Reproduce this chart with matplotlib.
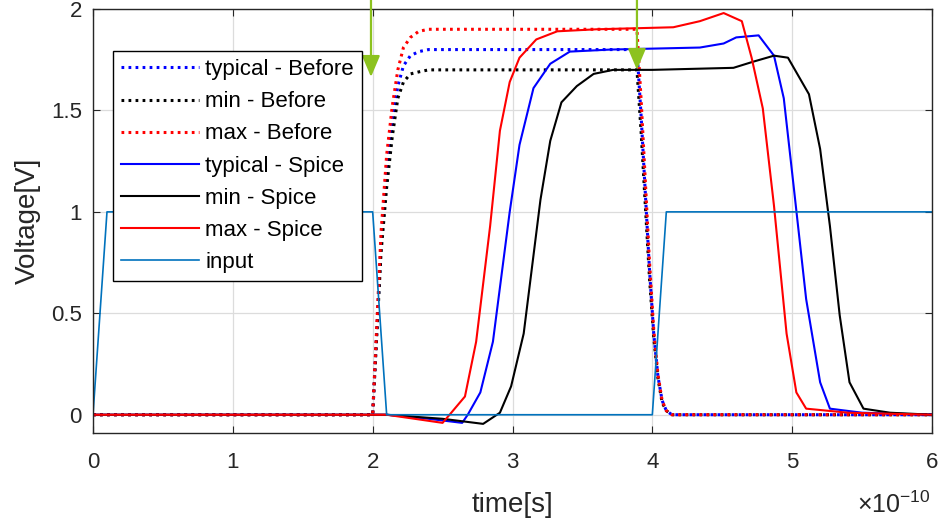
import numpy as np
import matplotlib
matplotlib.use("Agg")
import matplotlib.pyplot as plt

plt.rcParams['font.family'] = ['Liberation Sans', 'DejaVu Sans']
plt.rcParams['mathtext.fontset'] = 'custom'
plt.rcParams['mathtext.rm'] = 'Liberation Sans'
plt.rcParams['mathtext.it'] = 'Liberation Sans'

# time axis in units of 1e-10 s
t_input = [0, 0.1, 2.0, 2.1, 4.0, 4.1, 6.0]
v_input = [0, 1, 1, 0, 0, 1, 1]

t_before = [0, 2.0, 2.03, 2.06, 2.1, 2.14, 2.18, 2.22, 2.27, 2.33, 2.4,
            3.89, 3.92, 3.95, 3.98, 4.01, 4.04, 4.07, 4.1, 4.14, 6.0]
v_typ_before = [0, 0, 0.42, 0.85, 1.2, 1.45, 1.62, 1.72, 1.77, 1.79, 1.8,
                1.8, 1.47, 1.09, 0.71, 0.4, 0.19, 0.07, 0.02, 0, 0]
v_min_before = [0, 0, 0.4, 0.8, 1.12, 1.37, 1.56, 1.64, 1.68, 1.69, 1.7,
                1.7, 1.39, 1.03, 0.67, 0.38, 0.18, 0.06, 0.02, 0, 0]
v_max_before = [0, 0, 0.45, 0.9, 1.28, 1.52, 1.7, 1.81, 1.86, 1.89, 1.9,
                1.9, 1.55, 1.15, 0.75, 0.42, 0.2, 0.07, 0.02, 0, 0]

t_typ_spice = [0, 2.1, 2.4, 2.64, 2.68, 2.77, 2.86, 2.98, 3.05, 3.15, 3.27, 3.41,
               3.7, 4.34, 4.51, 4.60, 4.76, 4.87, 4.94, 5.01, 5.10, 5.20, 5.27, 5.5, 6.0]
v_typ_spice = [0, 0, -0.02, -0.04, 0.0, 0.11, 0.36, 1.0, 1.33, 1.61, 1.73, 1.79,
               1.8, 1.81, 1.83, 1.86, 1.87, 1.77, 1.56, 1.13, 0.57, 0.16, 0.03, 0.01, 0]

t_min_spice = [0, 2.1, 2.5, 2.79, 2.91, 2.99, 3.08, 3.20, 3.27, 3.35, 3.46, 3.58,
               3.72, 4.0, 4.58, 4.72, 4.87, 4.97, 5.12, 5.20, 5.27, 5.34, 5.41, 5.51, 5.7, 6.0]
v_min_spice = [0, 0, -0.02, -0.045, 0.01, 0.14, 0.40, 1.06, 1.35, 1.54, 1.62, 1.68,
               1.70, 1.70, 1.71, 1.74, 1.77, 1.76, 1.58, 1.31, 0.93, 0.49, 0.16, 0.03, 0.01, 0]

t_max_spice = [0, 2.1, 2.3, 2.5, 2.55, 2.66, 2.74, 2.84, 2.91, 2.98, 3.05, 3.17, 3.32,
               3.6, 4.15, 4.34, 4.51, 4.64, 4.71, 4.79, 4.87, 4.96, 5.03, 5.1, 5.4, 6.0]
v_max_spice = [0, 0, -0.02, -0.04, 0.0, 0.09, 0.36, 0.93, 1.40, 1.64, 1.76, 1.85, 1.89,
               1.9, 1.91, 1.94, 1.98, 1.94, 1.76, 1.51, 1.03, 0.40, 0.11, 0.03, 0.01, 0]

# green arrow tips (t, V)
arrow_tips = [(1.988, 1.665), (3.89, 1.70)]

fig = plt.figure(figsize=(9.39, 5.18), dpi=100)
ax = fig.add_axes([93/939, 1-433/518, (932-93)/939, (433-9)/518])

dot = (0, (0.9, 1.4))
ax.plot(t_before, v_typ_before, color='#0000ff', lw=2.2, ls=dot, label='typical - Before')
ax.plot(t_before, v_min_before, color='k', lw=2.2, ls=dot, label='min - Before')
ax.plot(t_before, v_max_before, color='#ff0000', lw=2.2, ls=dot, label='max - Before')
ax.plot(t_typ_spice, v_typ_spice, color='#0000ff', lw=1.5, label='typical - Spice')
ax.plot(t_min_spice, v_min_spice, color='k', lw=1.5, label='min - Spice')
ax.plot(t_max_spice, v_max_spice, color='#ff0000', lw=1.5, label='max - Spice')
ax.plot(t_input, v_input, color='#0072bd', lw=1.2, label='input')

for tx, ty in arrow_tips:
    ax.annotate('', xy=(tx, ty), xycoords='data',
                xytext=(tx, 1.0), textcoords=('data', 'figure fraction'),
                arrowprops=dict(arrowstyle='-|>,head_length=1.3,head_width=0.55',
                                color='#8cc21f', lw=1.6, shrinkA=0, shrinkB=0),
                annotation_clip=False)

ax.set_xlim(0, 6)
ax.set_ylim(-0.09, 2.0)
ax.set_xticks([0, 1, 2, 3, 4, 5, 6])
ax.set_yticks([0, 0.5, 1, 1.5, 2])
ax.set_yticklabels(['0', '0.5', '1', '1.5', '2'])
ax.grid(True, color='#dcdcdc', lw=0.9)
ax.set_axisbelow(True)
ax.tick_params(direction='in', top=True, right=True, labelsize=16,
               colors='#262626', length=5)
ax.tick_params(axis='x', pad=14)
ax.tick_params(axis='y', pad=8)
for s in ax.spines.values():
    s.set_color('#262626')
    s.set_linewidth(1.0)

ax.set_xlabel('time[s]', fontsize=20, color='#262626', labelpad=13)
ax.set_ylabel('Voltage[V]', fontsize=20, color='#262626', labelpad=7)
fig.text(931/939, 1-505/518, r'$\times$10$^{-10}$', ha='right', va='center',
         fontsize=18, color='#262626')

leg = ax.legend(loc='upper left', bbox_to_anchor=(0.024, 0.9), borderaxespad=0,
                fontsize=16, handlelength=3.5, labelspacing=0.5, handletextpad=0.3,
                fancybox=False, framealpha=1, edgecolor='k', borderpad=0.35)
leg.get_frame().set_linewidth(1.0)

fig.savefig('out.png', dpi=100)
